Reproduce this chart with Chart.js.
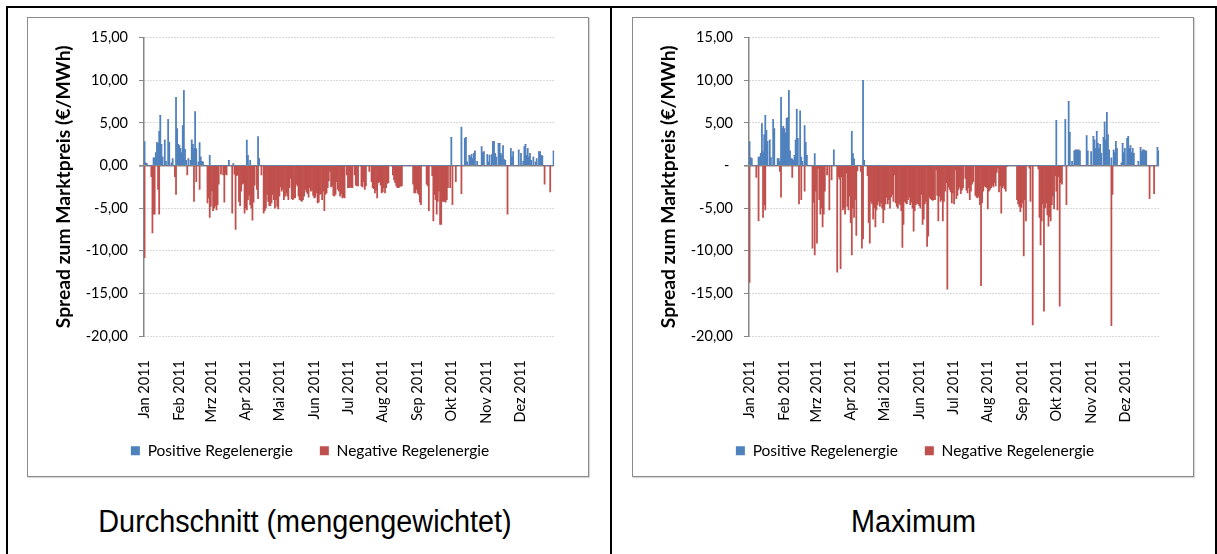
<!DOCTYPE html>
<html>
<head>
<meta charset="utf-8">
<script src="https://cdn.jsdelivr.net/npm/chart.js@4.4.0/dist/chart.umd.min.js"></script>
<style>
  html, body { margin: 0; padding: 0; background: #fff; }
  body { width: 1217px; height: 554px; position: relative; overflow: hidden; }
  .frame { position: absolute; left: 6px; top: 6px; width: 1211px; height: 570px; border: 2px solid #000; box-sizing: border-box; }
  .divider { position: absolute; left: 610px; top: 6px; width: 2px; height: 570px; background: #000; }
  .box { position: absolute; top: 17px; width: 562px; height: 460px; border: 1px solid #8a8a8a; box-sizing: border-box; box-shadow: 1px 1px 1px #d8d8d8; }
  canvas { position: absolute; top: 18px; }
  .caption { position: absolute; top: 506px; font-family: "Liberation Sans", Arial, sans-serif; font-size: 31px; line-height: 31px; text-align: center; color: #000; transform: scaleX(0.93); white-space: nowrap; }
</style>
</head>
<body>
<div class="frame"></div>
<div class="divider"></div>
<div class="box" style="left:27px"></div>
<div class="box" style="left:632px"></div>
<canvas id="avgChart" width="559" height="457" style="left:28px"></canvas>
<canvas id="maxChart" width="559" height="457" style="left:633px"></canvas>
<div class="caption" style="left:4px; width:602px">Durchschnitt (mengengewichtet)</div>
<div class="caption" style="left:612px; width:603px">Maximum</div>
<script>
// Monate 2011
const monthNames = ['Jan', 'Feb', 'Mrz', 'Apr', 'Mai', 'Jun', 'Jul', 'Aug', 'Sep', 'Okt', 'Nov', 'Dez'];
const monthDays = [31, 28, 31, 30, 31, 30, 31, 31, 30, 31, 30, 31];

// Durchschnitt (mengengewichtet), eine Zeile pro Monat
const avgPositive = [
  2.8,0.3,0.2,0,0,0,0,0,0.9,0.9, 1.5,2.7,2.6,4.0,5.9,2.5,1.0,0,3.0,0.5, 0,5.4,2.7,0,0.3,0.8,0,0,8.0,4.3, 2.5,
  2.3,2.0,1.5,4.7,8.8,1.9,0.6,0,0.8,0, 0.6,3.0,2.5,2.0,6.3,2.0,0,0.4,2.7,1.0, 0.5,0.4,0,0,0,0,0,1.2,
  0,0,0,0,0,0,0,0,0,0, 0,0,0,0,0,0,0.6,0,0,0, 0.2,0,0,0,0,0,0,0,0,0, 0,
  0,3.0,1.2,0,0.6,0,0,0,0,0, 0,3.4,0.8,0,0,0,0,0,0,0, 0,0,0,0,0,0,0,0,0,0,
  0,0,0,0,0,0,0,0,0,0, 0,0,0,0,0,0,0,0,0,0, 0,0,0,0,0,0,0,0,0,0, 0,
  0,0,0,0,0,0,0,0,0,0, 0,0,0,0,0,0,0,0,0,0, 0,0,0,0,0,0,0,0,0,0,
  0,0,0,0,0,0,0,0,0,0, 0,0,0,0,0,0,0,0,0,0, 0,0,0,0,0,0,0,0,0,0, 0,
  0,0,0,0,0,0,0,0,0,0, 0,0,0,0,0,0,0,0,0,0, 0,0,0,0,0,0,0,0,0,0, 0,
  0,0,0,0,0,0,0,0,0,0, 0,0,0,0,0,0,0,0,0,0, 0,0,0,0,0,0,0,0,0,0,
  3.3,0,0,0,0,0,0,0,0,4.5, 0,0,3.2,3.3,0.4,0,1.2,1.0,1.3,0.8, 1.4,1.7,0,0.5,0,0,0,2.2,1.5,1.6, 0,
  0,1.3,0.4,1.2,0,1.3,2.8,2.8,1.4,1.0, 0,2.6,2.6,1.4,1.2,2.3,0.7,0.6,0,0, 0,0,2.0,1.0,1.6,0,0,0,0,1.8,
  0,1.4,0,0.5,2.2,2.5,1.2,2.0,1.0,1.4, 0.6,0,1.0,0,0.4,0.8,0,1.6,1.6,1.2, 1.1,0,0,0,0,0,0,0,0,0, 1.7
];
const avgNegative = [
  -10.8,0,0,0,0,0,-1.3,-7.9,-5.7,-5.7, 0,0,-2.8,-5.7,0,0,0,0,0,0, 0,0,0,0,0,0,0,-1.3,-3.4,0, 0,
  0,0,0,0,0,0,0,-1.1,0,0, 0,0,0,-4.2,0,-1.9,0,0,-2.8,0, 0,0,0,0,0,-4.4,-3.8,-6.1,
  -4.8,-3.0,-5.3,-5.0,-4.7,-5.2,-4.6,-2.2,0,-1.0, 0,-1.1,-4.3,-1.0,-1.1,0,0,0,0,-5.6, 0,-1.0,-7.5,-1.2,-1.1,-4.2,-4.7,-3.0,-2.2,-2.1, -5.6,
  -5.0,-5.2,-4.0,-3.5,-4.6,-5.0,-6.4,-4.3,-2.3,0, -2.8,-3.9,0,0,-1.1,0,-5.6,-5.3,-5.0,-3.4, -4.2,-4.7,-4.7,-4.4,-3.4,-4.0,-5.0,-4.0,-4.8,-5.1,
  -3.6,-2.5,-3.0,-2.8,-4.0,-3.6,-3.2,-3.6,-4.0,-2.6, -1.5,-3.9,-4.0,-3.8,-3.8,-2.2,-2.4,-3.6,-4.0,-4.1, -4.2,-4.0,-3.6,-2.8,-3.1,-3.3,-3.7,-2.6,-3.0,-2.9, -3.5,
  -3.8,-3.7,-3.2,-4.4,-4.3,-3.4,-3.3,-4.0,-3.0,-5.3, -3.4,-3.2,-2.6,-1.8,-0.7,-2.5,-2.4,-3.5,-3.6,-3.4, -1.9,-2.8,-3.0,-3.6,-3.3,-3.8,-3.7,-3.8,0,-1.1,
  -2.6,-2.6,-2.5,-2.6,-2.6,0,-1.1,-2.3,-2.4,-2.4, 0,0,-2.4,-2.5,-1.9,-2.8,-2.4,0,0,-0.7, 0,-1.9,-2.6,-2.7,-3.2,-2.9,-3.8,-2.0,-1.9,-2.3, -3.2,
  -3.1,-2.6,-3.2,-2.6,-2.1,-2.0,0,0,0,-1.1, -1.7,-2.0,-2.4,-2.6,-2.6,-2.5,-2.4,-2.4,0,0, 0,0,0,0,0,0,0,-2.2,-3.2,-3.2, -2.8,
  -3.2,-3.4,-4.3,-4.6,0,0,0,0,-2.2,-2.4, -5.3,0,0,-1.2,-6.5,-3.4,-4.0,-5.7,-4.2,-3.0, -6.9,-6.9,-4.2,-4.2,-4.2,-4.3,-4.0,-2.6,0,-2.6,
  0,-4.6,0,0,-1.9,0,0,0,0,-3.3, 0,0,0,0,0,0,0,0,0,0, 0,0,0,0,0,0,0,0,0,0, 0,
  0,0,0,0,0,0,0,0,0,0, 0,0,0,0,0,0,0,0,0,-5.7, 0,0,0,0,0,0,0,0,0,0,
  0,0,0,0,0,0,0,0,0,0, 0,0,0,0,0,0,0,0,0,0, 0,0,-2.2,0,0,0,0,-3.1,0,0, 0
];

// Maximum
const maxPositive = [
  2.8,0.9,0.8,0,0,0,0,0,1.0,1.0, 1.4,4.9,1.6,3.6,5.9,4.1,2.8,0,3.0,0.9, 0,5.4,4.3,0,0,0.8,0.8,0.5,8.0,4.3, 4.6,
  4.3,3.8,5.5,5.6,8.8,1.7,0.8,0.8,0.6,1.2, 3.0,6.6,3.2,0,6.4,1.0,0.5,0,4.7,2.7, 1.2,0,0,0,0,0,0,1.4,
  0,0,0,0,0,0,0,0,0,0, 0,0,0,0,0,0,1.8,0,0,0, 0,0,0,0,0,0,0,0,0,0, 0,
  0,4.0,1.4,0.8,0,0,0,0,0,0, 0,10.0,0.6,0,0,0,0,0,0,0, 0,0,0,0,0,0,0,0,0,0,
  0,0,0,0,0,0,0,0,0,0, 0,0,0,0,0,0,0,0,0,0, 0,0,0,0,0,0,0,0,0,0, 0,
  0,0,0,0,0,0,0,0,0,0, 0,0,0,0,0,0,0,0,0,0, 0,0,0,0,0,0,0,0,0,0,
  0,0,0,0,0,0,0,0,0,0, 0,0,0,0,0,0,0,0,0,0, 0,0,0,0,0,0,0,0,0,0, 0,
  0,0,0,0,0,0,0,0,0,0, 0,0,0,0,0,0,0,0,0,0, 0,0,0,0,0,0,0,0,0,0, 0,
  0,0,0,0,0,0,0,0,0,0, 0,0,0,0,0,0,0,0,0,0, 0,0,0,0,0,0,0,0,0,0,
  5.3,0,0,0,0,0,0,0,5.4,0, 0,7.5,3.9,0,0.5,0,1.7,1.8,1.8,1.8, 1.8,1.7,0,0,0,0,0,3.5,1.7,0, 0,
  1.6,0,3.4,3.0,2.0,4.0,2.6,2.0,2.5,1.4, 0,3.3,5.1,3.0,6.2,3.6,1.8,0,0.9,0, 1.8,1.5,2.8,2.0,0,0,0,0.3,2.6,1.5,
  2.0,0,3.2,3.4,2.0,2.3,1.5,2.0,1.4,0, 0,0,0.5,0,2.1,1.6,1.8,1.8,1.7,1.7, 0,0,0,0,0,0,0,0,0,2.1, 1.7
];
const maxNegative = [
  -13.7,0,0,0,0,0,-1.4,0,-6.5,0, 0,0,-6.1,-4.6,-5.2,0,0,0,0,0, 0,0,0,0,0,0,0,-0.7,-3.7,0, 0,
  0,0,0,0,0,0,0,-1.4,0,0, 0,0,0,-4.5,0,-4.0,0,0,-3.0,0, 0,0,0,0,0,-9.7,-4.3,-10.5,
  -3.0,-9.1,-0.3,-4.0,-5.7,-5.0,-7.2,-5.7,-3.0,0, -1.1,0,-5.2,0,-1.7,0,0,0,0,-12.5, -1.3,-1.6,-12.1,-1.3,-5.2,-5.0,-5.7,-0.9,-4.8,-5.2, -3.6,
  -6.7,-10.5,-5.0,-6.1,-4.0,-8.2,-0.6,0,0,-0.7, -9.7,-8.6,0,0,0,-1.2,-6.7,-9.1,-4.2,-4.5, -6.3,-5.0,-7.2,-5.2,-4.6,-4.2,-4.8,-4.4,-5.0,-6.7,
  -5.2,-4.5,-3.7,-4.5,-4.0,-5.0,-3.7,-3.4,-4.2,-1.1, -4.4,-4.8,-5.0,-4.4,-4.6,-5.3,-9.6,-6.9,-4.2,-4.4, -4.5,-4.0,-3.7,-4.6,-4.3,-5.0,-7.7,-5.3,-4.6,-4.4, -4.5,
  -4.7,-5.0,-3.4,-6.9,-6.3,-4.5,-4.2,-9.5,-8.3,-3.7, -3.9,-4.0,-4.1,-4.0,-4.0,-0.5,-3.5,-6.5,-3.6,-4.2, -4.0,-6.5,-4.2,-3.0,-2.0,-14.5,-2.5,-2.8,-3.1,-4.4,
  -3.2,-4.5,-0.5,-3.9,-3.5,-2.8,-2.5,-3.3,-2.9,-2.6, 0,-1.5,-2.9,-3.2,-2.6,-4.0,-3.0,-2.2,-1.9,0, -3.5,-3.7,-3.8,-3.6,-4.6,-14.1,-4.4,-3.0,-2.4,-2.5, -2.6,
  -5.1,-3.0,-2.8,-2.6,-2.3,-2.5,-2.0,-2.4,-0.8,-0.3, -3.1,-2.4,-5.6,-2.6,-2.4,-2.7,-3.0,-0.1,0,0, 0,0,0,0,0,0,-4.0,-4.5,-4.8,-5.4, -4.9,
  -4.4,-10.6,-4.0,-6.5,0,0,-0.3,-4.2,0,-18.7, 0,0,0,0,-0.4,-6.1,-9.3,-6.5,-4.5,-17.1, -5.0,-4.4,-5.8,-7.1,-6.0,-6.5,-4.6,-3.6,-5.1,-1.2,
  -3.0,-5.2,-1.3,-16.5,-2.0,-2.2,0,0,0,-4.6, 0,0,0,0,0,0,0,0,0,0, 0,0,0,0,0,0,0,0,0,0, 0,
  0,0,0,0,0,0,0,0,0,0, 0,0,0,0,0,0,0,0,-18.8,-3.4, 0,0,0,0,0,0,0,0,0,0,
  0,0,0,0,0,0,0,0,0,0, 0,0,0,0,0,0,0,0,0,0, 0,0,-3.9,0,0,0,-3.3,0,0,0, 0
];

// Tageskategorien
const dayLabels = [];
monthDays.forEach((n, m) => {
  for (let d = 1; d <= n; d++) {
    dayLabels.push(String(d).padStart(2, '0') + '.' + String(m + 1).padStart(2, '0') + '.2011');
  }
});

Chart.defaults.font.family = 'Lato, "Open Sans", sans-serif';
Chart.defaults.color = '#000';

function makeChart(id, posData, negData, zeroLabel) {
  const ctx = document.getElementById(id).getContext('2d');
  return new Chart(ctx, {
    type: 'bar',
    data: {
      labels: dayLabels,
      datasets: [{
        label: 'Positive Regelenergie',
        data: posData,
        backgroundColor: '#4F81BD',
        borderWidth: 0,
        barPercentage: 1,
        categoryPercentage: 1
      }, {
        label: 'Negative Regelenergie',
        data: negData,
        backgroundColor: '#C0504D',
        borderWidth: 0,
        barPercentage: 1,
        categoryPercentage: 1
      }]
    },
    options: {
      responsive: false,
      animation: false,
      devicePixelRatio: 1,
      events: [],
      layout: { padding: { left: 24, right: 19, top: 17, bottom: 6.5 } },
      plugins: {
        legend: {
          position: 'bottom',
          labels: { boxWidth: 9, boxHeight: 9, padding: 27, font: { size: 15.5 } }
        },
        tooltip: { enabled: false }
      },
      scales: {
        x: {
          stacked: true,
          grid: { display: false },
          border: { display: false },
          ticks: {
            autoSkip: false,
            minRotation: 90,
            maxRotation: 90,
            padding: 16,
            font: { size: 14.5 },
            callback: function (v) {
              const lab = this.getLabelForValue(v);
              return lab.startsWith('01.') ? monthNames[+lab.slice(3, 5) - 1] + ' 2011' : '';
            }
          },
          afterFit: s => {
            s.height = 80;
            // Monatsbeschriftungen nicht am Achsenrand abschneiden
            s._computeLabelArea = () => undefined;
          }
        },
        y: {
          stacked: true,
          min: -20,
          max: 15,
          ticks: {
            stepSize: 5,
            padding: 11,
            font: { size: 14.5 },
            callback: v => (v === 0 && zeroLabel) ? zeroLabel : v.toFixed(2).replace('.', ',')
          },
          grid: {
            color: c => (c.tick && c.tick.value === 0) ? '#868686' : '#b4b4b4',
            lineWidth: c => (c.tick && c.tick.value === 0) ? 1.6 : 1,
            tickLength: 5,
            tickColor: '#868686',
            tickBorderDash: []
          },
          border: {
            display: true,
            color: '#868686',
            width: 1.5,
            dash: c => (c.tick && c.tick.value === 0) ? [] : [1, 2]
          },
          title: {
            display: true,
            text: 'Spread zum Marktpreis (€/MWh)',
            font: { size: 19.3, weight: 'bold' },
            padding: { top: 0.5, bottom: 0 }
          },
          afterFit: s => { s.width = 92; }
        }
      }
    }
  });
}

makeChart('avgChart', avgPositive, avgNegative, null);
makeChart('maxChart', maxPositive, maxNegative, '- ');
</script>
</body>
</html>
